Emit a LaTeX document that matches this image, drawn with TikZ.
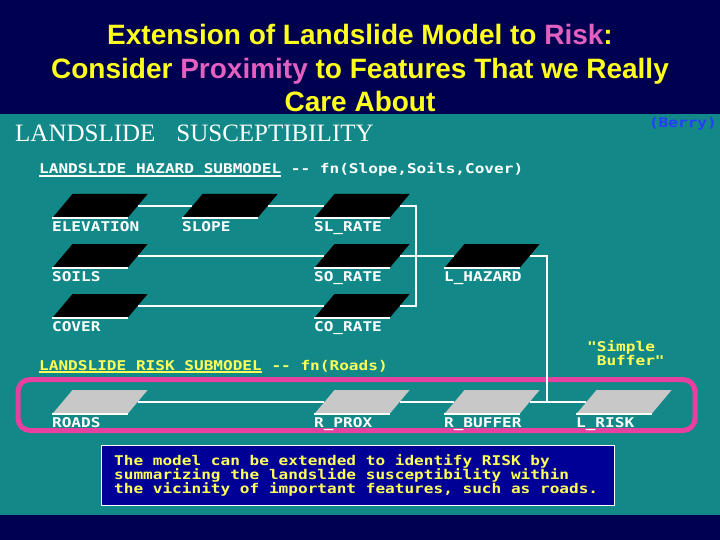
\documentclass[tikz,border=0pt]{standalone}
\usepackage{fontspec}
\setmainfont{Liberation Sans}
\newfontfamily\headserif{Liberation Serif}
\newfontfamily\pixfont[FakeStretch=1.2]{DejaVu Sans Mono}
\usepackage{xcolor}
\usetikzlibrary{shapes.geometric,calc}

\definecolor{bandnavy}{RGB}{0,0,80}
\definecolor{slideteal}{RGB}{18,136,136}
\definecolor{titleyellow}{RGB}{255,255,30}
\definecolor{titlepink}{RGB}{228,96,192}
\definecolor{pixyellow}{RGB}{255,255,90}
\definecolor{notenavy}{RGB}{0,0,150}
\definecolor{framepink}{RGB}{232,64,160}
\definecolor{berryblue}{RGB}{40,60,255}
\definecolor{tilegrey}{RGB}{200,200,200}

\newcommand\pixgaps{\spaceskip=9.68pt\relax\xspaceskip=9.68pt\relax}
\newcommand\pix{\pixfont\bfseries\fontsize{13.4}{14}\selectfont\pixgaps}
\newcommand\pixtight{\pix\baselineskip=12.5pt\relax}
\newcommand\subline[1]{\setbox0=\hbox{#1}\rlap{\rule[-2.6pt]{\wd0}{1.4pt}}\box0\relax}

\begin{document}
\begin{tikzpicture}[x=1pt, y=-1pt,
  tile/.style={trapezium, trapezium left angle=50, trapezium right angle=130,
    inner xsep=27.5pt, inner ysep=12pt, minimum width=0pt, minimum height=0pt, fill=black},
  greytile/.style={tile, fill=tilegrey},
  tileedge/.style={white, line width=1.5pt},
  tilelabel/.style={font=\pix, text=white, anchor=north west, inner sep=0pt, yshift=-3pt},
  wire/.style={white, line width=1.3pt},
  titletext/.style={font=\bfseries\fontsize{28}{33}\selectfont, text=titleyellow, anchor=base, inner sep=0pt},
  pixtext/.style={font=\pix, inner sep=0pt}]
  \useasboundingbox (0,0) rectangle (720,540);
  \fill[bandnavy] (0,0) rectangle (720,114);
  \fill[slideteal] (0,114) rectangle (720,515);
  \fill[bandnavy] (0,515) rectangle (720,540);

  \node[titletext] (title1) at (360,44.5) {Extension of Landslide Model to \textcolor{titlepink}{Risk}:};
  \node[titletext] (title2) at (360,78.5) {Consider \textcolor{titlepink}{Proximity} to Features That we Really};
  \node[titletext] (title3) at (360,111.5) {Care About};

  \node[font=\headserif\fontsize{25}{25}\selectfont, text=white, anchor=base west, inner sep=0pt] (heading) at (15,142) {LANDSLIDE\hspace{21pt}SUSCEPTIBILITY};
  \node[pixtext, text=berryblue, anchor=base east] (berry) at (717,128) {(Berry)};
  \node[pixtext, text=white, anchor=base west] (hazardhdr) at (39,174) {\subline{LANDSLIDE HAZARD SUBMODEL} -{}- fn(Slope,Soils,Cover)};
  \node[pixtext, text=pixyellow, anchor=base west] (riskhdr) at (39,370) {\subline{LANDSLIDE RISK SUBMODEL} -{}- fn(Roads)};
  \node[font=\pixtight, text=pixyellow, align=left, anchor=north west, inner sep=0pt] (buffernote) at (587,340) {"Simple\\\ Buffer"};

  \draw[framepink, line width=5pt, rounded corners=12pt] (18,379.5) rectangle (695,430.5);

  \node[tile] (elev) at (100,206) {};
  \node[tile] (slope) at (230,206) {};
  \node[tile] (slrate) at (362,206) {};
  \node[tile] (soils) at (100,256) {};
  \node[tile] (sorate) at (362,256) {};
  \node[tile] (hazard) at (492,256) {};
  \node[tile] (cover) at (100,306) {};
  \node[tile] (corate) at (362,306) {};
  \node[greytile] (roads) at (100,402) {};
  \node[greytile] (rprox) at (362,402) {};
  \node[greytile] (rbuffer) at (492,402) {};
  \node[greytile] (lrisk) at (624,402) {};

  \draw[tileedge] (elev.bottom left corner) -- (elev.bottom right corner);
  \draw[tileedge] (slope.bottom left corner) -- (slope.bottom right corner);
  \draw[tileedge] (slrate.bottom left corner) -- (slrate.bottom right corner);
  \draw[tileedge] (soils.bottom left corner) -- (soils.bottom right corner);
  \draw[tileedge] (sorate.bottom left corner) -- (sorate.bottom right corner);
  \draw[tileedge] (hazard.bottom left corner) -- (hazard.bottom right corner);
  \draw[tileedge] (cover.bottom left corner) -- (cover.bottom right corner);
  \draw[tileedge] (corate.bottom left corner) -- (corate.bottom right corner);
  \draw[tileedge] (roads.bottom left corner) -- (roads.bottom right corner);
  \draw[tileedge] (rprox.bottom left corner) -- (rprox.bottom right corner);
  \draw[tileedge] (rbuffer.bottom left corner) -- (rbuffer.bottom right corner);
  \draw[tileedge] (lrisk.bottom left corner) -- (lrisk.bottom right corner);

  \node[tilelabel] (elev-lbl) at (elev.bottom left corner) {ELEVATION};
  \node[tilelabel] (slope-lbl) at (slope.bottom left corner) {SLOPE};
  \node[tilelabel] (slrate-lbl) at (slrate.bottom left corner) {SL\_RATE};
  \node[tilelabel] (soils-lbl) at (soils.bottom left corner) {SOILS};
  \node[tilelabel] (sorate-lbl) at (sorate.bottom left corner) {SO\_RATE};
  \node[tilelabel] (hazard-lbl) at (hazard.bottom left corner) {L\_HAZARD};
  \node[tilelabel] (cover-lbl) at (cover.bottom left corner) {COVER};
  \node[tilelabel] (corate-lbl) at (corate.bottom left corner) {CO\_RATE};
  \node[tilelabel] (roads-lbl) at (roads.bottom left corner) {ROADS};
  \node[tilelabel] (rprox-lbl) at (rprox.bottom left corner) {R\_PROX};
  \node[tilelabel] (rbuffer-lbl) at (rbuffer.bottom left corner) {R\_BUFFER};
  \node[tilelabel] (lrisk-lbl) at (lrisk.bottom left corner) {L\_RISK};

  \coordinate (bus) at (416,256);
  \coordinate (join) at (547,402);
  \draw[wire] (elev.east) -- (slope.west);
  \draw[wire] (slope.east) -- (slrate.west);
  \draw[wire] (soils.east) -- (sorate.west);
  \draw[wire] (cover.east) -- (corate.west);
  \draw[wire] (slrate.east) -| (bus) |- (corate.east);
  \draw[wire] (sorate.east) -- (hazard.west);
  \draw[wire] (hazard.east) -| (join);
  \draw[wire] (roads.east) -- (rprox.west);
  \draw[wire] (rprox.east) -- (rbuffer.west);
  \draw[wire] (rbuffer.east) -- (lrisk.west);

  \node[draw=white, line width=1.3pt, fill=notenavy, minimum width=513pt, minimum height=60pt,
    text width=488pt, inner xsep=12pt, align=left, font=\pix, text=pixyellow,
    anchor=north west] (note) at (101,445)
    {\pixgaps The model can be extended to identify RISK by\\summarizing the landslide susceptibility within\\the vicinity of important features, such as roads.};
\end{tikzpicture}
\end{document}
